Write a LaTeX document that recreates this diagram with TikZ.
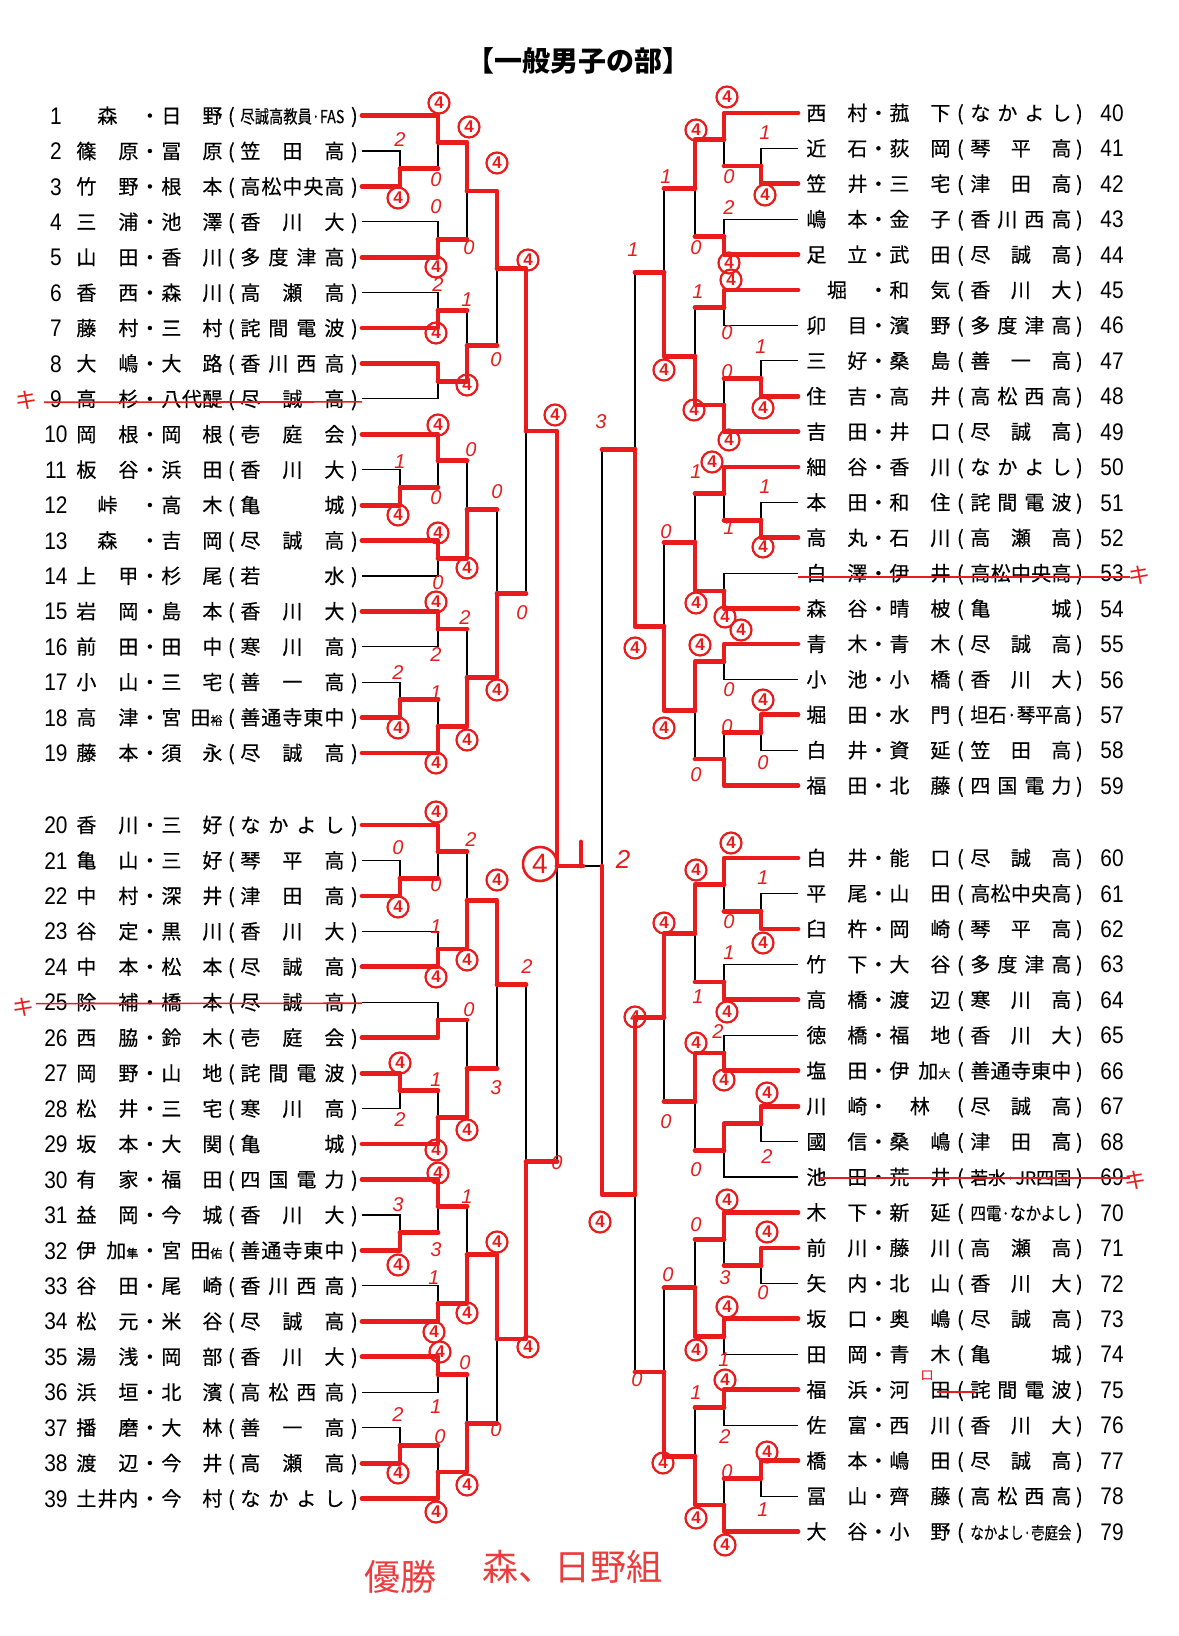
\documentclass[tikz,border=0pt]{standalone}
\usepackage{fontspec}
\usepackage{graphicx}
\setmainfont{Noto Sans CJK JP}
\newfontfamily\rowf{Noto Sans CJK JP}[FakeBold=0.4]
\newfontfamily\numf[FakeStretch=0.87]{Liberation Sans}
\newfontfamily\handf{Liberation Sans}
\usetikzlibrary{calc}
\pgfdeclarelayer{back}
\pgfdeclarelayer{bg}
\pgfsetlayers{back,bg,main}
\definecolor{pen}{RGB}{232,28,28}

\def\spx#1#2\relax{#1\ifx\relax#2\relax\else\hfill\spx#2\relax\fi}
\newcommand\Spr[1]{\spx#1\relax}
\newcommand\fitw[2]{\resizebox{#1}{\height}{#2}}
\newcommand\smc[1]{{\fontsize{6}{6}\selectfont #1}}

\tikzset{
  br/.style={line width=0.6pt, black},
  win/.style={line width=2.4pt, pen, line cap=round, line join=round},
  strike/.style={line width=0.8pt, pen},
  numt/.style={font=\numf\fontsize{12}{12}\selectfont, inner sep=0pt, anchor=base},
  rowt/.style={font=\rowf\fontsize{10}{10}\selectfont, inner sep=0pt, anchor=base west},
  cfour/.style={circle, draw=pen, line width=1.1pt, inner sep=0pt, minimum size=10.5pt, text=pen, font=\handf\bfseries\fontsize{8.5}{8.5}\selectfont},
  sc/.style={text=pen, inner sep=0pt, font=\handf\itshape\fontsize{10}{10}\selectfont},
  kmark/.style={text=pen, inner sep=0pt, font=\fontsize{11}{11}\selectfont},
}

% rows
\newcommand\lrow[4]{%
  \pgfmathsetmacro\yy{#1<20 ? 115.7+(#1-1)*35.4 : 825+(#1-20)*35.45}%
  \node[numt] (nL#1) at (56,\yy+8.6) {#1};
  \node[rowt] (tL#1) at (76,\yy+7.5) {\makebox[31pt][s]{#2}\makebox[11.5pt]{・}\makebox[30.5pt][s]{#3}\makebox[9pt]{(}\makebox[52pt][s]{#4}\makebox[10pt]{)}};
  \coordinate (L#1) at (362,\yy);}
\newcommand\rrow[4]{%
  \pgfmathsetmacro\yy{#1<60 ? 113+(#1-40)*35.4 : 858+(#1-60)*35.45}%
  \node[numt] (nR#1) at (1112,\yy+8.6) {#1};
  \node[rowt] (tR#1) at (806,\yy+7.5) {\makebox[30.5pt][s]{#2}\makebox[11pt]{・}\makebox[30.5pt][s]{#3}\makebox[10pt]{(}\makebox[50.5pt][s]{#4}\makebox[8pt]{)}};
  \coordinate (R#1) at (798,\yy);}

% match: name, column, top, bottom, winner t/b, loser line red 1/0
\newcommand\mt[6]{%
  \path (#3) -- (#4) coordinate[pos=0.5] (#1-h);
  \coordinate (#1) at (#2 |- #1-h);
  \begin{pgfonlayer}{bg}\draw[br] (#3) -- (#2 |- #3) -- (#2 |- #4) -- (#4);\end{pgfonlayer}
  \if t#5\relax
    \draw[win] (#3) -- (#2 |- #3) -- (#1);
    \ifnum#6=1 \draw[win] (#4) -- (#2 |- #4);\fi
  \else
    \draw[win] (#4) -- (#2 |- #4) -- (#1);
    \ifnum#6=1 \draw[win] (#3) -- (#2 |- #3);\fi
  \fi}

\begin{document}
\begin{tikzpicture}[x=0.5pt,y=-0.5pt]
\begin{pgfonlayer}{back}
\fill[white] (0,0) rectangle (1178,1636);
\end{pgfonlayer}
\useasboundingbox (0,0) rectangle (1178,1636);

\node[font=\fontsize{14}{14}\selectfont\bfseries, inner sep=0pt] (title) at (578,61) {【一般男子の部】};

% columns
\coordinate (cA) at (400,0); \coordinate (cB) at (438,0); \coordinate (cC) at (467,0);
\coordinate (cD) at (497,0); \coordinate (cE) at (526,0); \coordinate (cF) at (557,0);
\coordinate (rA) at (761,0); \coordinate (rB) at (724,0); \coordinate (rC) at (695,0);
\coordinate (rD) at (664,0); \coordinate (rE) at (635,0); \coordinate (rF) at (602,0);

% left entries
\lrow{1}{\hfil 森\hfil}{\Spr{日野}}{\fitw{52pt}{\fontsize{9}{9}\selectfont 尽誠高教員·FAS}}
\lrow{2}{\Spr{篠原}}{\Spr{冨原}}{\Spr{笠田高}}
\lrow{3}{\Spr{竹野}}{\Spr{根本}}{\Spr{高松中央高}}
\lrow{4}{\Spr{三浦}}{\Spr{池澤}}{\Spr{香川大}}
\lrow{5}{\Spr{山田}}{\Spr{香川}}{\Spr{多度津高}}
\lrow{6}{\Spr{香西}}{\Spr{森川}}{\Spr{高瀬高}}
\lrow{7}{\Spr{藤村}}{\Spr{三村}}{\Spr{詫間電波}}
\lrow{8}{\Spr{大嶋}}{\Spr{大路}}{\Spr{香川西高}}
\lrow{9}{\Spr{高杉}}{\Spr{八代醍}}{\Spr{尽誠高}}
\lrow{10}{\Spr{岡根}}{\Spr{岡根}}{\Spr{壱庭会}}
\lrow{11}{\Spr{板谷}}{\Spr{浜田}}{\Spr{香川大}}
\lrow{12}{\hfil 峠\hfil}{\Spr{高木}}{\Spr{亀城}}
\lrow{13}{\hfil 森\hfil}{\Spr{吉岡}}{\Spr{尽誠高}}
\lrow{14}{\Spr{上甲}}{\Spr{杉尾}}{\Spr{若水}}
\lrow{15}{\Spr{岩岡}}{\Spr{島本}}{\Spr{香川大}}
\lrow{16}{\Spr{前田}}{\Spr{田中}}{\Spr{寒川高}}
\lrow{17}{\Spr{小山}}{\Spr{三宅}}{\Spr{善一高}}
\lrow{18}{\Spr{高津}}{宮\hfill 田\smc{裕}}{\Spr{善通寺東中}}
\lrow{19}{\Spr{藤本}}{\Spr{須永}}{\Spr{尽誠高}}
\lrow{20}{\Spr{香川}}{\Spr{三好}}{\Spr{なかよし}}
\lrow{21}{\Spr{亀山}}{\Spr{三好}}{\Spr{琴平高}}
\lrow{22}{\Spr{中村}}{\Spr{深井}}{\Spr{津田高}}
\lrow{23}{\Spr{谷定}}{\Spr{黒川}}{\Spr{香川大}}
\lrow{24}{\Spr{中本}}{\Spr{松本}}{\Spr{尽誠高}}
\lrow{25}{\Spr{除補}}{\Spr{橋本}}{\Spr{尽誠高}}
\lrow{26}{\Spr{西脇}}{\Spr{鈴木}}{\Spr{壱庭会}}
\lrow{27}{\Spr{岡野}}{\Spr{山地}}{\Spr{詫間電波}}
\lrow{28}{\Spr{松井}}{\Spr{三宅}}{\Spr{寒川高}}
\lrow{29}{\Spr{坂本}}{\Spr{大関}}{\Spr{亀城}}
\lrow{30}{\Spr{有家}}{\Spr{福田}}{\Spr{四国電力}}
\lrow{31}{\Spr{益岡}}{\Spr{今城}}{\Spr{香川大}}
\lrow{32}{伊\hfill 加\smc{隼}}{宮\hfill 田\smc{佑}}{\Spr{善通寺東中}}
\lrow{33}{\Spr{谷田}}{\Spr{尾崎}}{\Spr{香川西高}}
\lrow{34}{\Spr{松元}}{\Spr{米谷}}{\Spr{尽誠高}}
\lrow{35}{\Spr{湯浅}}{\Spr{岡部}}{\Spr{香川大}}
\lrow{36}{\Spr{浜垣}}{\Spr{北濱}}{\Spr{高松西高}}
\lrow{37}{\Spr{播磨}}{\Spr{大林}}{\Spr{善一高}}
\lrow{38}{\Spr{渡辺}}{\Spr{今井}}{\Spr{高瀬高}}
\lrow{39}{\Spr{土井内}}{\Spr{今村}}{\Spr{なかよし}}

% right entries
\rrow{40}{\Spr{西村}}{\Spr{菰下}}{\Spr{なかよし}}
\rrow{41}{\Spr{近石}}{\Spr{荻岡}}{\Spr{琴平高}}
\rrow{42}{\Spr{笠井}}{\Spr{三宅}}{\Spr{津田高}}
\rrow{43}{\Spr{嶋本}}{\Spr{金子}}{\Spr{香川西高}}
\rrow{44}{\Spr{足立}}{\Spr{武田}}{\Spr{尽誠高}}
\rrow{45}{\hfil 堀\hfil}{\Spr{和気}}{\Spr{香川大}}
\rrow{46}{\Spr{卯目}}{\Spr{濱野}}{\Spr{多度津高}}
\rrow{47}{\Spr{三好}}{\Spr{桑島}}{\Spr{善一高}}
\rrow{48}{\Spr{住吉}}{\Spr{高井}}{\Spr{高松西高}}
\rrow{49}{\Spr{吉田}}{\Spr{井口}}{\Spr{尽誠高}}
\rrow{50}{\Spr{細谷}}{\Spr{香川}}{\Spr{なかよし}}
\rrow{51}{\Spr{本田}}{\Spr{和住}}{\Spr{詫間電波}}
\rrow{52}{\Spr{高丸}}{\Spr{石川}}{\Spr{高瀬高}}
\rrow{53}{\Spr{白澤}}{\Spr{伊井}}{\Spr{高松中央高}}
\rrow{54}{\Spr{森谷}}{\Spr{晴柀}}{\Spr{亀城}}
\rrow{55}{\Spr{青木}}{\Spr{青木}}{\Spr{尽誠高}}
\rrow{56}{\Spr{小池}}{\Spr{小橋}}{\Spr{香川大}}
\rrow{57}{\Spr{堀田}}{\Spr{水門}}{\fitw{50.5pt}{坦石·琴平高}}
\rrow{58}{\Spr{白井}}{\Spr{資延}}{\Spr{笠田高}}
\rrow{59}{\Spr{福田}}{\Spr{北藤}}{\Spr{四国電力}}
\rrow{60}{\Spr{白井}}{\Spr{能口}}{\Spr{尽誠高}}
\rrow{61}{\Spr{平尾}}{\Spr{山田}}{\Spr{高松中央高}}
\rrow{62}{\Spr{臼杵}}{\Spr{岡崎}}{\Spr{琴平高}}
\rrow{63}{\Spr{竹下}}{\Spr{大谷}}{\Spr{多度津高}}
\rrow{64}{\Spr{高橋}}{\Spr{渡辺}}{\Spr{寒川高}}
\rrow{65}{\Spr{徳橋}}{\Spr{福地}}{\Spr{香川大}}
\rrow{66}{\Spr{塩田}}{伊\hfill 加\smc{大}}{\Spr{善通寺東中}}
\rrow{67}{\Spr{川崎}}{\hfil 林\hfil}{\Spr{尽誠高}}
\rrow{68}{\Spr{國信}}{\Spr{桑嶋}}{\Spr{津田高}}
\rrow{69}{\Spr{池田}}{\Spr{荒井}}{\fitw{50.5pt}{\fontsize{9}{9}\selectfont 若水·JR四国}}
\rrow{70}{\Spr{木下}}{\Spr{新延}}{\fitw{50.5pt}{\fontsize{9}{9}\selectfont 四電·なかよし}}
\rrow{71}{\Spr{前川}}{\Spr{藤川}}{\Spr{高瀬高}}
\rrow{72}{\Spr{矢内}}{\Spr{北山}}{\Spr{香川大}}
\rrow{73}{\Spr{坂口}}{\Spr{奥嶋}}{\Spr{尽誠高}}
\rrow{74}{\Spr{田岡}}{\Spr{青木}}{\Spr{亀城}}
\rrow{75}{\Spr{福浜}}{\Spr{河田}}{\Spr{詫間電波}}
\rrow{76}{\Spr{佐富}}{\Spr{西川}}{\Spr{香川大}}
\rrow{77}{\Spr{橋本}}{\Spr{嶋田}}{\Spr{尽誠高}}
\rrow{78}{\Spr{冨山}}{\Spr{齊藤}}{\Spr{高松西高}}
\rrow{79}{\Spr{大谷}}{\Spr{小野}}{\fitw{50.5pt}{\fontsize{8.5}{8.5}\selectfont なかよし·壱庭会}}

% ---- left top
\mt{m23}{cA}{L2}{L3}{b}{0}
\mt{m1}{cB}{L1}{m23}{t}{1}
\mt{m45}{cB}{L4}{L5}{b}{0}
\mt{q1}{cC}{m1}{m45}{t}{1}
\mt{m67}{cB}{L6}{L7}{b}{0}
\mt{m89}{cB}{L8}{L9}{t}{0}
\mt{q2}{cC}{m67}{m89}{b}{1}
\mt{s1}{cD}{q1}{q2}{t}{1}
\mt{m1112}{cA}{L11}{L12}{b}{0}
\mt{m10}{cB}{L10}{m1112}{t}{1}
\mt{m1314}{cB}{L13}{L14}{t}{0}
\mt{q3}{cC}{m10}{m1314}{b}{1}
\mt{m1516}{cB}{L15}{L16}{t}{0}
\mt{m1718}{cA}{L17}{L18}{b}{0}
\mt{m19}{cB}{m1718}{L19}{b}{1}
\mt{q4}{cC}{m1516}{m19}{b}{1}
\mt{s2}{cD}{q3}{q4}{b}{1}
\mt{hL1}{cE}{s1}{s2}{t}{1}
% ---- left bottom
\mt{m2122}{cA}{L21}{L22}{b}{0}
\mt{m20}{cB}{L20}{m2122}{t}{1}
\mt{m2324}{cB}{L23}{L24}{b}{0}
\mt{q5}{cC}{m20}{m2324}{b}{1}
\mt{m2526}{cB}{L25}{L26}{b}{0}
\mt{m2728}{cA}{L27}{L28}{t}{0}
\mt{m29}{cB}{m2728}{L29}{b}{1}
\mt{q6}{cC}{m2526}{m29}{b}{1}
\mt{s3}{cD}{q5}{q6}{t}{1}
\mt{m3132}{cA}{L31}{L32}{b}{0}
\mt{m30}{cB}{L30}{m3132}{t}{1}
\mt{m3334}{cB}{L33}{L34}{b}{0}
\mt{q7}{cC}{m30}{m3334}{b}{1}
\mt{m3536}{cB}{L35}{L36}{t}{0}
\mt{m3738}{cA}{L37}{L38}{b}{0}
\mt{m39}{cB}{m3738}{L39}{b}{1}
\mt{q8}{cC}{m3536}{m39}{b}{1}
\mt{s4}{cD}{q7}{q8}{t}{1}
\mt{hL2}{cE}{s3}{s4}{b}{1}
% ---- right top
\mt{n4142}{rA}{R41}{R42}{b}{0}
\mt{n40}{rB}{R40}{n4142}{t}{1}
\mt{n4344}{rB}{R43}{R44}{b}{0}
\mt{p1}{rC}{n40}{n4344}{t}{1}
\mt{n4546}{rB}{R45}{R46}{t}{0}
\mt{n4748}{rA}{R47}{R48}{b}{0}
\mt{n49}{rB}{n4748}{R49}{b}{1}
\mt{p2}{rC}{n4546}{n49}{b}{1}
\mt{t1}{rD}{p1}{p2}{b}{1}
\mt{n5152}{rA}{R51}{R52}{b}{0}
\mt{n50}{rB}{R50}{n5152}{t}{1}
\mt{n5354}{rB}{R53}{R54}{b}{0}
\mt{p3}{rC}{n50}{n5354}{b}{1}
\mt{n5556}{rB}{R55}{R56}{t}{0}
\mt{n5758}{rA}{R57}{R58}{t}{0}
\mt{n59}{rB}{n5758}{R59}{b}{1}
\mt{p4}{rC}{n5556}{n59}{t}{1}
\mt{t2}{rD}{p3}{p4}{b}{1}
\mt{hR1}{rE}{t1}{t2}{b}{1}
% ---- right bottom
\mt{n6162}{rA}{R61}{R62}{b}{0}
\mt{n60}{rB}{R60}{n6162}{t}{1}
\mt{n6364}{rB}{R63}{R64}{b}{0}
\mt{p5}{rC}{n60}{n6364}{t}{1}
\mt{n6566}{rB}{R65}{R66}{b}{0}
\mt{n6768}{rA}{R67}{R68}{t}{0}
\mt{n69}{rB}{n6768}{R69}{t}{0}
\mt{p6}{rC}{n6566}{n69}{t}{1}
\mt{t3}{rD}{p5}{p6}{t}{1}
\mt{n7172}{rA}{R71}{R72}{t}{0}
\mt{n70}{rB}{R70}{n7172}{t}{1}
\mt{n7374}{rB}{R73}{R74}{t}{0}
\mt{p7}{rC}{n70}{n7374}{b}{1}
\mt{n7576}{rB}{R75}{R76}{t}{0}
\mt{n7778}{rA}{R77}{R78}{t}{0}
\mt{n79}{rB}{n7778}{R79}{b}{1}
\mt{p8}{rC}{n7576}{n79}{b}{1}
\mt{t4}{rD}{p7}{p8}{b}{1}
\mt{hR2}{rE}{t3}{t4}{t}{1}

% ---- half finals and final
\coordinate (LF) at (557,866);
\coordinate (RF) at (602,866);
\begin{pgfonlayer}{bg}
\draw[br] (hL1) -- (cF |- hL1) -- (cF |- hL2) -- (hL2);
\draw[br] (hR1) -- (rF |- hR1) -- (rF |- hR2) -- (hR2);
\draw[br] (LF) -- (RF);
\end{pgfonlayer}
\draw[win] (hL1) -- (cF |- hL1) -- (LF);
\draw[win] (hL2) -- (cF |- hL2);
\draw[win] (hR2) -- (rF |- hR2) -- (RF);
\draw[win] (hR1) -- (rF |- hR1);
\coordinate (FT) at (583,866);
\coordinate (FT2) at (581,842);
\coordinate (FT3) at (581,866);
\draw[win] (LF) -- (FT);
\draw[win] (FT2) -- (FT3);

% ---- withdrawals
\draw[strike] ([xshift=-3pt,yshift=-1.5pt]nL9.west) -- ([yshift=-1.5pt]L9);
\draw[strike] ([xshift=-4pt,yshift=-0.5pt]nL25.west) -- ([yshift=-0.5pt]L25);
\draw[strike] ([yshift=-2pt]R53) -- ([xshift=3pt,yshift=-2pt]R53 -| nR53.east);
\draw[strike] ([xshift=7pt,yshift=-0.5pt]R69 -| tR69.west) -- ([xshift=3pt,yshift=-0.5pt]R69 -| nR69.east);
\node[kmark] (k9) at (27,400) {キ};
\node[kmark] (k25) at (23,1007) {キ};
\node[kmark] (k53) at (1139,575) {キ};
\node[kmark] (k69) at (1135,1180) {キ};
\node[text=pen, inner sep=0pt, font=\fontsize{7}{7}\selectfont] (ro) at (927,1376) {ロ};
\draw[strike] ([xshift=-5pt,yshift=-1pt]R75 -| tR75.center) -- ([xshift=14pt,yshift=-1pt]R75 -| tR75.center);

% ---- circled winner scores
\foreach \x/\y [count=\i] in {398/198,439/103,436/267,469/127,436/333,467/385,497/163,528/260,555/415,398/515,438/425,438/533,467/568,497/690,436/602,467/740,398/728,436/763,
398/907,436/812,436/977,467/960,497/880,400/1063,436/1150,467/1130,398/1265,438/1173,434/1332,467/1313,497/1242,528/1347,440/1352,398/1473,436/1512,467/1485,
765/195,727/97,729/263,696/130,731/280,763/408,729/440,694/410,664/370,635/648,763/547,712/462,725/617,696/603,741/630,763/700,700/645,664/728,
763/943,731/843,727/1012,696/870,724/1080,767/1093,696/1043,664/923,635/1017,600/1222,767/1232,727/1200,727/1307,696/1350,725/1380,767/1452,725/1545,696/1518,663/1463}
  \node[cfour] (cf\i) at (\x,\y) {4};
\node[cfour, minimum size=17pt, line width=1.3pt, font=\handf\fontsize{14}{14}\selectfont] (cfin) at (540,864) {4};

% ---- other scores
\foreach \x/\y/\t [count=\i] in {400/140/2,436/180/0,436/207/0,469/248/0,438/285/2,467/300/1,496/360/0,522/613/0,400/462/1,436/498/0,438/583/0,471/450/0,497/492/0,436/655/2,465/618/2,398/673/2,436/693/1,
398/848/0,436/885/0,436/927/1,471/840/2,496/1088/3,469/1010/0,400/1120/2,436/1080/1,527/967/2,557/1163/0,398/1205/3,436/1250/3,434/1278/1,467/1197/1,496/1430/0,465/1363/0,436/1407/1,398/1415/2,440/1437/0,
765/133/1,729/177/0,729/208/2,696/248/0,727/333/0,761/347/1,727/372/0,698/292/1,666/177/1,633/250/1,601/422/3,765/487/1,729/528/1,696/472/1,729/690/0,763/763/0,727/727/0,696/775/0,666/532/0,
763/878/1,729/922/0,729/953/1,698/997/1,718/1032/2,767/1157/2,696/1170/0,666/1122/0,637/1380/0,763/1293/0,725/1278/3,724/1360/1,696/1225/0,725/1437/2,763/1510/1,727/1472/0,696/1393/1,668/1275/0}
  \node[sc] (sc\i) at (\x,\y) {\t};
\node[sc, font=\handf\itshape\fontsize{13}{13}\selectfont] (fin2) at (623,859) {2};

% ---- champion note
\node[text=pen, opacity=0.85, inner sep=0pt, font=\fontsize{18}{18}\selectfont] (yusho) at (400,1577) {優勝};
\node[text=pen, opacity=0.85, inner sep=0pt, font=\fontsize{18}{18}\selectfont] (champ) at (572,1567) {森、日野組};
\end{tikzpicture}
\end{document}
